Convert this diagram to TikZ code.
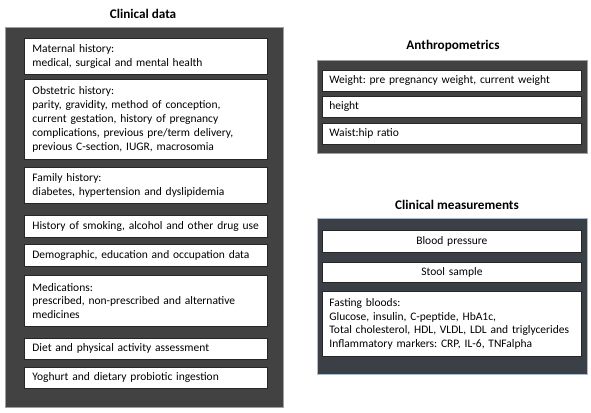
\documentclass[tikz,border=0pt]{standalone}
\usepackage{fontspec}
\setmainfont{Carlito}
\frenchspacing
\definecolor{darkfill}{HTML}{424242}
\definecolor{darkblue}{HTML}{3B3F46}
\definecolor{bluebord}{HTML}{A9BCCF}
\begin{document}
\begin{tikzpicture}[x=1pt,y=-1pt,
  outer/.style={draw=gray!75, line width=1.2pt, fill=darkfill, anchor=north west, inner sep=0pt},
  outerb/.style={draw=bluebord, line width=1.4pt, fill=darkblue, anchor=north west, inner sep=0pt},
  title/.style={font=\bfseries\fontsize{13.2}{15}\selectfont, anchor=center},
  inbox/.style={draw=black!85, line width=0.8pt, fill=white, anchor=north west,
    inner xsep=8pt, inner ysep=0pt, align=left, font=\fontsize{11.5}{13.8}\selectfont\frenchspacing},
  lbox/.style={inbox, text width=227pt, minimum width=243pt},
  rbox/.style={inbox, inner xsep=7pt, text width=245pt, minimum width=259pt},
  cbox/.style={inbox, inner xsep=7pt, text width=245pt, minimum width=259pt, align=center}]
\useasboundingbox (0,0) rectangle (591,412);
% Clinical data
\node[title] (t1) at (143,14) {Clinical data};
\node[outer, minimum width=278pt, minimum height=380pt] (cd) at (5,27) {};
\node[lbox, minimum height=36pt] (b1) at (24,38) {Maternal history:\\medical, surgical and mental health};
\node[lbox, minimum height=80pt] (b2) at (24,79) {Obstetric history:\\parity, gravidity, method of conception,\\current gestation, history of pregnancy\\complications, previous pre/term delivery,\\previous C-section, IUGR, macrosomia};
\node[lbox, minimum height=36pt] (b3) at (24,167) {Family history:\\diabetes, hypertension and dyslipidemia};
\node[lbox, minimum height=22pt] (b4) at (24,215) {History of smoking, alcohol and other drug use};
\node[lbox, minimum height=22pt] (b5) at (24,244) {Demographic, education and occupation data};
\node[lbox, minimum height=51pt] (b6) at (24,275) {Medications:\\prescribed, non-prescribed and alternative\\medicines};
\node[lbox, minimum height=21pt] (b7) at (24,338) {Diet and physical activity assessment};
\node[lbox, minimum height=21pt] (b8) at (24,367) {Yoghurt and dietary probiotic ingestion};
% Anthropometrics
\node[title] (t2) at (453,46) {Anthropometrics};
\node[outer, minimum width=270pt, minimum height=93pt] (an) at (317,60) {};
\node[rbox, minimum height=21pt] (a1) at (322,70) {Weight: pre pregnancy weight, current weight};
\node[rbox, minimum height=21pt] (a2) at (322,96) {height};
\node[rbox, minimum height=21pt] (a3) at (322,123) {Waist:hip ratio};
% Clinical measurements
\node[title] (t3) at (457,205) {Clinical measurements};
\node[outerb, minimum width=270pt, minimum height=156pt] (cm) at (317,218) {};
\node[cbox, minimum height=22pt] (c1) at (322,230) {Blood pressure};
\node[cbox, minimum height=20pt] (c2) at (322,262) {Stool sample};
\node[rbox, minimum height=65pt] (c3) at (322,291) {Fasting bloods:\\Glucose, insulin, C-peptide, HbA1c,\\Total cholesterol, HDL, VLDL, LDL and triglycerides\\Inflammatory markers: CRP, IL-6, TNFalpha};
\end{tikzpicture}
\end{document}
